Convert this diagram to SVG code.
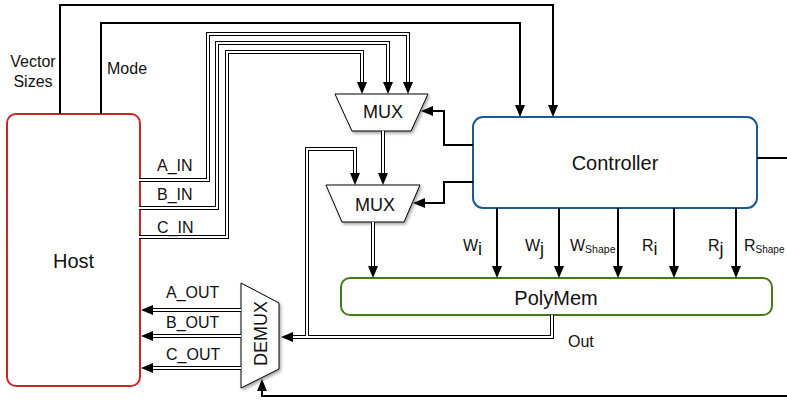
<svg xmlns="http://www.w3.org/2000/svg" width="787" height="401" viewBox="0 0 787 401">
<style>
.t{font-family:"Liberation Sans",Arial,Helvetica,sans-serif;fill:#111}
.lbl{font-size:16px}
.big{font-size:20px}
.mx{font-size:18px}
.wire{fill:none;stroke:#000;stroke-width:2}
.busk{fill:none;stroke:#000;stroke-width:4;stroke-linejoin:miter}
.busw{fill:none;stroke:#fff;stroke-width:2;stroke-linejoin:miter}
.muxs{fill:#fff;stroke:#000;stroke-width:1;filter:url(#sh)}
.node{fill:#fff;stroke-width:2}
</style>
<defs>
<marker id="arr" viewBox="0 0 12 10" markerWidth="12" markerHeight="10" refX="6" refY="5" orient="auto" markerUnits="userSpaceOnUse">
<path d="M0,0 L12,5 L0,10 z" fill="#000"/>
</marker>
<filter id="sh" x="-20%" y="-20%" width="150%" height="150%">
<feDropShadow dx="1.5" dy="2" stdDeviation="1.5" flood-color="#000" flood-opacity="0.35"/>
</filter>
</defs>
<rect width="787" height="401" fill="#fff"/>

<g id="host">
<rect class="node" x="7" y="114" width="133" height="272" rx="9" stroke="#c62828"/>
<text class="t big" x="73.5" y="268" text-anchor="middle">Host</text>
</g>
<g id="controller">
<rect class="node" x="473" y="117" width="284" height="91" rx="10" stroke="#1c5a96"/>
<text class="t big" x="615" y="170" text-anchor="middle">Controller</text>
</g>
<g id="polymem">
<rect class="node" x="341" y="278" width="431" height="37" rx="9" stroke="#437b14"/>
<text class="t big" x="556" y="305" text-anchor="middle">PolyMem</text>
</g>
<g id="mux1">
<polygon class="muxs" points="335,94 428,94 411,131 352,131"/>
<text class="t mx" x="383" y="118" text-anchor="middle">MUX</text>
</g>
<g id="mux2">
<polygon class="muxs" points="326,185 420,185 404,222 342,222"/>
<text class="t mx" x="375" y="211" text-anchor="middle">MUX</text>
</g>
<g id="demux">
<polygon class="muxs" points="241,283 279,303 279,369 241,388"/>
<text class="t mx" transform="translate(266.5,333.5) rotate(-90)" x="0" y="0" text-anchor="middle">DEMUX</text>
</g>

<g id="connectors">
<path class="wire" d="M60,114 V5 H553 V111" marker-end="url(#arr)"/>
<path class="wire" d="M101,114 V23 H520 V111" marker-end="url(#arr)"/>
<path class="wire" d="M473,145 H444 V111 H427" marker-end="url(#arr)"/>
<path class="wire" d="M473,182 H444 V203 H419" marker-end="url(#arr)"/>
<path class="wire" d="M497,208 V272" marker-end="url(#arr)"/>
<path class="wire" d="M559,208 V272" marker-end="url(#arr)"/>
<path class="wire" d="M618,208 V272" marker-end="url(#arr)"/>
<path class="wire" d="M674,208 V272" marker-end="url(#arr)"/>
<path class="wire" d="M736,208 V272" marker-end="url(#arr)"/>
<path class="wire" d="M757,158 H800 V396 H262 V385" marker-end="url(#arr)"/>

<path class="busk" d="M139,180 H208 V34 H408 V88"/>
<path class="busk" d="M139,208 H217 V43 H388 V88"/>
<path class="busk" d="M139,237 H227 V52 H362 V88"/>
<path class="busk" d="M383,131 V179"/>
<path class="busk" d="M373,222 V272"/>
<path class="busk" d="M552,315 V337 H287"/>
<path class="busk" d="M307,337 V149 H355 V179"/>
<path class="busk" d="M241,310 H147"/>
<path class="busk" d="M241,336 H147"/>
<path class="busk" d="M241,368 H147"/>

<path class="busw" d="M139,180 H208 V34 H408 V88" marker-end="url(#arr)"/>
<path class="busw" d="M139,208 H217 V43 H388 V88" marker-end="url(#arr)"/>
<path class="busw" d="M139,237 H227 V52 H362 V88" marker-end="url(#arr)"/>
<path class="busw" d="M383,131 V179" marker-end="url(#arr)"/>
<path class="busw" d="M373,222 V272" marker-end="url(#arr)"/>
<path class="busw" d="M552,315 V337 H287" marker-end="url(#arr)"/>
<path class="busw" d="M307,337 V149 H355 V179" marker-end="url(#arr)"/>
<path class="busw" d="M241,310 H147" marker-end="url(#arr)"/>
<path class="busw" d="M241,336 H147" marker-end="url(#arr)"/>
<path class="busw" d="M241,368 H147" marker-end="url(#arr)"/>
</g>

<g id="labels" class="t lbl">
<text x="33" y="67" text-anchor="middle">Vector</text>
<text x="33" y="87" text-anchor="middle">Sizes</text>
<text x="107" y="74">Mode</text>
<text x="157" y="171">A_IN</text>
<text x="157" y="200">B_IN</text>
<text x="157" y="233">C_IN</text>
<text x="166" y="298">A_OUT</text>
<text x="166" y="328">B_OUT</text>
<text x="166" y="360">C_OUT</text>
<text x="568" y="347">Out</text>
<text x="463" y="251">W<tspan dy="4" font-size="18">i</tspan></text>
<text x="525" y="251">W<tspan dy="4" font-size="18">j</tspan></text>
<text x="570" y="251">W<tspan dy="2" font-size="10.5">Shape</tspan></text>
<text x="642" y="251">R<tspan dy="4" font-size="18">i</tspan></text>
<text x="708" y="251">R<tspan dy="4" font-size="18">j</tspan></text>
<text x="744" y="251">R<tspan dy="2" font-size="10">Shape</tspan></text>
</g>
</svg>
